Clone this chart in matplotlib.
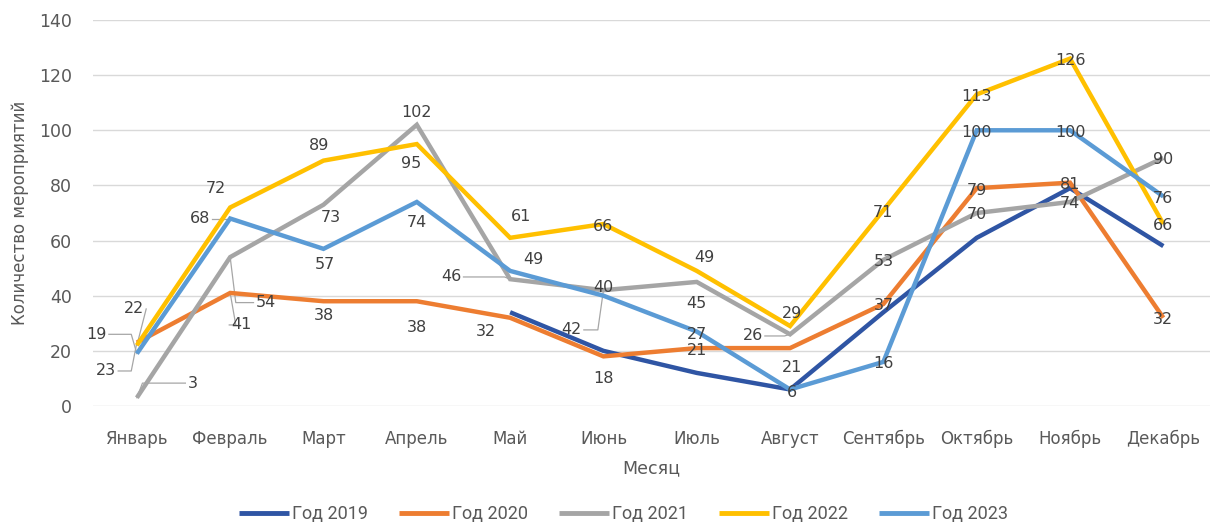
import matplotlib
matplotlib.use("Agg")
import matplotlib.pyplot as plt
import numpy as np

months = ["Январь", "Февраль", "Март", "Апрель", "Май", "Июнь", "Июль",
          "Август", "Сентябрь", "Октябрь", "Ноябрь", "Декабрь"]
y2019 = [None, None, None, None, 34, 20, 12, 6, 34, 61, 79, 58]
y2020 = [23, 41, 38, 38, 32, 18, 21, 21, 37, 79, 81, 32]
y2021 = [3, 54, 73, 102, 46, 42, 45, 26, 53, 70, 74, 90]
y2022 = [22, 72, 89, 95, 61, 66, 49, 29, 71, 113, 126, 66]
y2023 = [19, 68, 57, 74, 49, 40, 27, 6, 16, 100, 100, 76]
series_names = ["Год 2019", "Год 2020", "Год 2021", "Год 2022", "Год 2023"]
yticks = [0, 20, 40, 60, 80, 100, 120, 140]

colors = ["#2F55A4", "#ED7D31", "#A5A5A5", "#FFC000", "#5B9BD5"]

# label offsets (dx in month units, dy in value units) and leader flag
Z = (0, -0.7, False)
off2020 = [(-0.33, -10.3, True), (0.12, -11.6, True), (0, -5, False), (0, -9.5, False), (-0.26, -4.8, False),
           (0, -8, False), (0, -1, False), (0.02, -7.2, False), Z, Z, Z, Z]
off2021 = [(0.6, 5.3, True), (0.38, -16.5, True), (0.08, -4.5, False), (0, 4.5, False), (-0.63, 0.8, True),
           (-0.34, -14.4, True), (0, -8, False), (-0.4, -0.6, True), Z, Z, Z, Z]
off2022 = [(-0.03, 13.2, True), (-0.15, 7, False), (-0.05, 5.5, False), (-0.06, -7, False), (0.12, 7.6, False),
           (0, -1, False), (0.08, 4.7, False), (0.02, 4.7, False), Z, Z, Z, Z]
off2023 = [(-0.43, 7, True), (-0.32, 0, True), (0.02, -5.5, False), (0, -7.3, False), (0.25, 4, False),
           (0, 3, False), (0, -1, False), (0.02, -1, False), Z, Z, Z, Z]

fig = plt.figure(figsize=(12.11, 5.26), dpi=100)
ax = fig.add_axes([93/1211, 120/526, 1117/1211, 386/526])
x = np.arange(len(months))

all_series = [y2019, y2020, y2021, y2022, y2023]
for vals, c, name in zip(all_series, colors, series_names):
    arr = np.array([np.nan if v is None else v for v in vals], dtype=float)
    ax.plot(x, arr, color=c, lw=3.2, label=name, solid_capstyle="butt", solid_joinstyle="miter", zorder=3)

lab_color = "#404040"
for vals, offs in zip([y2020, y2021, y2022, y2023], [off2020, off2021, off2022, off2023]):
    for i, (v, (dx, dy, lead)) in enumerate(zip(vals, offs)):
        tx, ty = i + dx, v + dy
        ax.text(tx, ty, str(v), ha="center", va="center", fontsize=11.5, color=lab_color, zorder=5,
                family="DejaVu Sans")
        if lead:
            sgn = 1 if dx < 0 else -1
            w = 0.13 if v < 100 else 0.18
            sx = tx + sgn * (w if v >= 10 else 0.08)
            ex = i - sgn * 0.06
            if abs(dx) < 0.1:
                ex = sx
            ax.plot([sx, ex, i], [ty, ty, v], color="#A6A6A6", lw=0.9, zorder=2)

ax.set_xlim(-0.47, 11.5)
ax.set_ylim(0, 140)
ax.set_yticks(yticks)
ax.set_xticks(x)
ax.set_xticklabels(months)
ax.grid(axis="y", color="#D9D9D9", lw=1)
ax.set_axisbelow(True)
for s in ax.spines.values():
    s.set_visible(False)
ax.tick_params(axis="both", length=0, colors="#595959")
ax.tick_params(axis="y", pad=15, labelsize=12.5)
ax.tick_params(axis="x", pad=17, labelsize=12)
ax.set_xlabel("Месяц", fontsize=12.5, color="#595959", labelpad=8)
ax.set_ylabel("Количество мероприятий", fontsize=12, color="#595959", labelpad=7)

leg = fig.legend(loc="lower center", bbox_to_anchor=(0.515, -0.025), ncol=5, frameon=False,
                 prop={"family": "Roboto", "size": 13}, handlelength=2.75, columnspacing=1.7,
                 handletextpad=0.2)
for t in leg.get_texts():
    t.set_color("#595959")
for l in leg.get_lines():
    l.set_linewidth(3.5)

fig.savefig("out.png", dpi=100)
